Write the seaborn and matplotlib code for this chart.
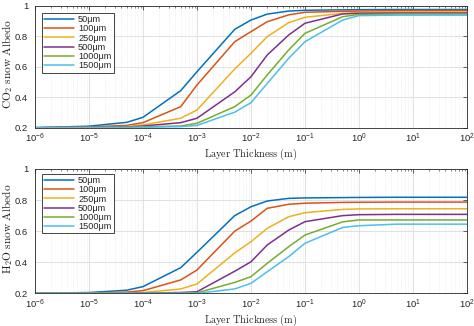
import numpy as np
import pandas as pd
import matplotlib
matplotlib.use("Agg")
import matplotlib.pyplot as plt
import seaborn as sns
from matplotlib.ticker import LogLocator, FixedLocator

# ---------------- data ----------------
thickness = [1e-6, 1e-5, 5e-5, 1e-4, 5e-4, 1e-3, 5e-3, 1e-2, 2e-2, 5e-2, 1e-1, 5e-1, 1, 5, 10, 100]
grain_labels = ["50μm", "100μm", "250μm", "500μm", "1000μm", "1500μm"]

co2_50   = [0.200, 0.210, 0.235, 0.268, 0.443, 0.567, 0.845, 0.906, 0.945, 0.965, 0.970, 0.973, 0.974, 0.975, 0.975, 0.975]
co2_100  = [0.200, 0.205, 0.215, 0.233, 0.338, 0.480, 0.764, 0.830, 0.895, 0.940, 0.957, 0.963, 0.965, 0.967, 0.967, 0.968]
co2_250  = [0.200, 0.202, 0.207, 0.218, 0.262, 0.316, 0.585, 0.688, 0.797, 0.889, 0.924, 0.950, 0.955, 0.958, 0.958, 0.958]
co2_500  = [0.200, 0.201, 0.204, 0.211, 0.233, 0.262, 0.435, 0.534, 0.677, 0.808, 0.885, 0.946, 0.950, 0.952, 0.952, 0.952]
co2_1000 = [0.200, 0.200, 0.202, 0.206, 0.211, 0.229, 0.338, 0.414, 0.546, 0.710, 0.819, 0.928, 0.943, 0.945, 0.945, 0.945]
co2_1500 = [0.200, 0.200, 0.201, 0.203, 0.207, 0.215, 0.302, 0.364, 0.490, 0.655, 0.764, 0.906, 0.935, 0.938, 0.938, 0.938]

h2o_50   = [0.200, 0.205, 0.220, 0.243, 0.365, 0.464, 0.700, 0.757, 0.794, 0.811, 0.814, 0.816, 0.817, 0.818, 0.818, 0.818]
h2o_100  = [0.200, 0.202, 0.208, 0.217, 0.286, 0.350, 0.600, 0.665, 0.747, 0.773, 0.780, 0.785, 0.786, 0.787, 0.787, 0.787]
h2o_250  = [0.200, 0.200, 0.202, 0.205, 0.228, 0.260, 0.460, 0.532, 0.618, 0.693, 0.719, 0.740, 0.743, 0.744, 0.744, 0.744]
h2o_500  = [0.200, 0.200, 0.200, 0.202, 0.205, 0.210, 0.342, 0.403, 0.511, 0.607, 0.661, 0.700, 0.706, 0.708, 0.708, 0.708]
h2o_1000 = [0.200, 0.200, 0.200, 0.200, 0.201, 0.203, 0.270, 0.307, 0.393, 0.500, 0.575, 0.660, 0.672, 0.672, 0.672, 0.672]
h2o_1500 = [0.200, 0.200, 0.200, 0.200, 0.200, 0.200, 0.228, 0.264, 0.339, 0.436, 0.522, 0.624, 0.635, 0.645, 0.645, 0.645]

colors = ["#0072BD", "#D95319", "#EDB120", "#7E2F8E", "#77AC30", "#4DBEEE"]

co2_series = [co2_50, co2_100, co2_250, co2_500, co2_1000, co2_1500]
h2o_series = [h2o_50, h2o_100, h2o_250, h2o_500, h2o_1000, h2o_1500]


def long_df(series):
    rows = []
    for lab, vals in zip(grain_labels, series):
        for t, v in zip(thickness, vals):
            rows.append({"thickness": t, "albedo": v, "grain": lab})
    return pd.DataFrame(rows)


sns.set_style("white")
plt.rcParams.update({
    "font.family": ["Liberation Sans", "DejaVu Sans"],
    "font.size": 7,
    "axes.edgecolor": "#262626",
    "axes.linewidth": 0.6,
    "xtick.direction": "in",
    "ytick.direction": "in",
    "xtick.color": "#262626",
    "ytick.color": "#262626",
    "xtick.labelsize": 6.8,
    "ytick.labelsize": 6.8,
    "xtick.major.size": 3,
    "ytick.major.size": 3,
    "xtick.minor.size": 1.6,
    "xtick.major.width": 0.5,
    "xtick.minor.width": 0.4,
    "ytick.major.width": 0.5,
    "xtick.top": True,
    "ytick.right": True,
    "mathtext.fontset": "custom",
    "mathtext.rm": "Liberation Sans",
    "mathtext.it": "Liberation Sans:italic",
    "mathtext.bf": "Liberation Sans:bold",
    "mathtext.sf": "Liberation Sans",
})

fig = plt.figure(figsize=(4.74, 3.26), dpi=100)
ax1 = fig.add_axes([0.0738, 0.6083, 0.9114, 0.3742])
ax2 = fig.add_axes([0.0738, 0.1003, 0.9114, 0.3813])

for ax, series, ylab, legy in [(ax1, co2_series, r"$\mathrm{CO_2\ snow\ Albedo}$", 0.94),
                               (ax2, h2o_series, r"$\mathrm{H_2O\ snow\ Albedo}$", 0.96)]:
    df = long_df(series)
    sns.lineplot(data=df, x="thickness", y="albedo", hue="grain",
                 hue_order=grain_labels, palette=colors, estimator=None,
                 sort=False, linewidth=1.1, ax=ax)
    ax.set_xscale("log")
    ax.set_xlim(1e-6, 1e2)
    ax.set_ylim(0.2, 1.0)
    ax.xaxis.set_major_locator(LogLocator(base=10, numticks=20))
    ax.xaxis.set_minor_locator(LogLocator(base=10, subs=np.arange(2, 10), numticks=100))
    ax.yaxis.set_major_locator(FixedLocator([0.2, 0.4, 0.6, 0.8, 1.0]))
    ax.set_yticklabels(["0.2", "0.4", "0.6", "0.8", "1"])
    ax.grid(True, which="major", color="#DCDCDC", linewidth=0.6, linestyle="-")
    ax.grid(True, which="minor", axis="x", color="#E6E6E6", linewidth=0.5, linestyle=":")
    ax.set_axisbelow(True)
    ax.xaxis.set_tick_params(which="both", top=True)
    ax.set_xlabel(r"$\mathrm{Layer\ Thickness\ (m)}$", fontsize=7.4, math_fontfamily="cm", labelpad=1)
    ax.set_ylabel(ylab, fontsize=8.2, math_fontfamily="cm")
    ax.yaxis.set_label_coords(-0.047, 0.52)
    ax.tick_params(axis="y", which="major", pad=5)
    ax.tick_params(axis="x", which="major", pad=3)
    for sp in ax.spines.values():
        sp.set_visible(True)
    leg = ax.legend(loc="upper left", bbox_to_anchor=(0.016, legy), fontsize=6.6,
                    frameon=True, fancybox=False, edgecolor="#262626",
                    framealpha=1, handlelength=3.2, handletextpad=0.5,
                    labelspacing=0.02, borderpad=0.25, borderaxespad=0.0)
    leg.get_frame().set_linewidth(0.6)

fig.savefig("out.png", dpi=100)
